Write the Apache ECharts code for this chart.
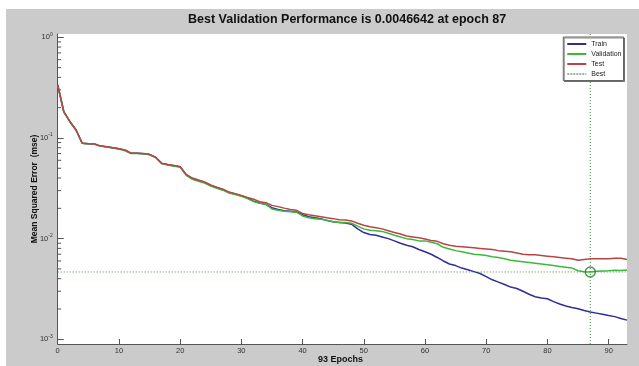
<!DOCTYPE html>
<html><head><meta charset="utf-8">
<script src="https://cdn.jsdelivr.net/npm/echarts@6/dist/echarts.min.js"></script>
<style>html,body{margin:0;padding:0;background:#fff}#c{width:639px;height:366px}</style>
</head><body><div id="c"></div>
<script>
const epochs = Array.from({length: 94}, (_, i) => i);
const train = [0.336,0.182,0.145,0.12,0.0885,0.0877,0.087,0.083,0.082,0.080,0.078,0.0757,0.0704,0.0704,0.0698,0.0686,0.0642,0.0558,0.0542,0.053,0.0517,
0.0430,0.0394,0.0377,0.0360,0.0337,0.0320,0.0306,0.0287,0.0277,0.0266,0.0254,
0.0236,0.0226,0.0219,0.0203,0.0195,0.0189,0.0187,0.0184,0.0173,0.0165,0.0161,0.0158,0.0151,0.0147,0.0145,0.0143,0.0139,0.0125,0.0115,0.0110,0.0108,0.0104,0.0100,0.0095,0.0090,0.0086,0.0083,0.0078,0.0074,0.0070,0.0065,0.0060,0.0056,0.0054,0.0051,0.0049,0.0047,0.0045,0.0042,0.0039,0.0037,0.0035,0.0033,0.0032,0.0030,0.0028,0.00265,0.00257,0.00253,0.00237,0.00224,0.00214,0.00207,0.00201,0.00193,0.00187,0.00182,0.00177,0.00172,0.00168,0.00161,0.00155];
const validation = [0.336,0.182,0.145,0.12,0.0885,0.0877,0.087,0.083,0.0815,0.0795,0.0775,0.0745,0.0702,0.0702,0.0697,0.0682,0.0640,0.0556,0.0538,0.0525,0.0514,
0.0425,0.0388,0.0372,0.0356,0.0333,0.0316,0.0303,0.0284,0.0274,0.0263,0.0250,
0.0233,0.0224,0.0219,0.0197,0.0191,0.0187,0.0185,0.0183,0.0168,0.0161,0.0158,0.0156,0.0152,0.0147,0.0145,0.0145,0.0142,0.0133,0.0125,0.0121,0.0120,0.0118,0.0113,0.0108,0.0104,0.0100,0.0098,0.0095,0.0095,0.0092,0.0089,0.0082,0.0079,0.0076,0.0074,0.0072,0.0070,0.0069,0.0068,0.0066,0.0065,0.0063,0.0061,0.0060,0.0059,0.0058,0.0057,0.0056,0.0055,0.0054,0.0053,0.0052,0.0051,0.0048,0.0047,0.0046642,0.00475,0.00478,0.0048,0.00485,0.00483,0.00487];
const test = [0.336,0.182,0.145,0.12,0.0885,0.0877,0.087,0.083,0.082,0.080,0.078,0.076,0.0705,0.0705,0.070,0.0688,0.0643,0.056,0.0544,0.0532,0.0519,
0.0435,0.040,0.0382,0.0365,0.0341,0.0324,0.031,0.029,0.028,0.0269,0.0257,
0.0246,0.0233,0.0227,0.0214,0.0208,0.0201,0.0195,0.0191,0.0178,0.0173,0.0169,0.0165,0.0161,0.0158,0.0154,0.0153,0.0150,0.0142,0.0136,0.0131,0.0128,0.0125,0.0120,0.0115,0.0111,0.0106,0.0104,0.0102,0.0099,0.0096,0.0094,0.0089,0.0086,0.0084,0.0083,0.0082,0.0081,0.0080,0.0079,0.0078,0.0076,0.0075,0.0074,0.0072,0.0070,0.0069,0.0069,0.0068,0.0067,0.0066,0.0065,0.0064,0.0063,0.0061,0.0062,0.0063,0.0063,0.0063,0.0063,0.0064,0.0064,0.0062];
const bestEpoch = 87;
const bestValue = 0.0046642;
const xTicks = [0,10,20,30,40,50,60,70,80,90];
const yMinorTicks = [0.002,0.003,0.004,0.005,0.006,0.007,0.008,0.009,0.02,0.03,0.04,0.05,0.06,0.07,0.08,0.09,0.2,0.3,0.4,0.5,0.6,0.7,0.8,0.9];
const xRange = [0, 93];
const yRange = [0.001, 1];
const yFrame = [0.000898, 1.0784];

const FONT = 'Liberation Sans, Arial, sans-serif';
const AX = '#555';
const cTrain = '#2e2e96', cVal = '#3cb83c', cTest = '#b84444', cBest = '#3a943a';
const pairs = arr => epochs.map((e, i) => [e, arr[i]]);

const chart = echarts.init(document.getElementById('c'), null, {renderer: 'canvas'});
chart.setOption({
  animation: false,
  backgroundColor: '#cbcbcb',
  textStyle: {fontFamily: FONT},
  graphic: [
    {type: 'rect', shape: {x: 0, y: 0, width: 639, height: 9}, style: {fill: '#fff'}, silent: true},
    {type: 'rect', shape: {x: 0, y: 0, width: 6, height: 366}, style: {fill: '#fff'}, silent: true},
    {type: 'text', x: 340.5, y: 360, silent: true,
     style: {text: '93 Epochs', fill: '#111', font: 'bold 9px ' + FONT, textAlign: 'center', textVerticalAlign: 'middle'}}
  ],
  title: {
    text: 'Best Validation Performance is 0.0046642 at epoch 87',
    left: 188, top: 13, padding: 0,
    textStyle: {fontSize: 12.5, fontWeight: 'bold', color: '#111', fontFamily: FONT}
  },
  legend: {
    data: [{name: 'Train'}, {name: 'Validation'}, {name: 'Test'},
           {name: 'Best', lineStyle: {color: '#4c5c4c', type: [2, 1], width: 1}}],
    orient: 'vertical', right: 15.5, top: 37,
    itemWidth: 19, itemHeight: 8, itemGap: 3, padding: [3.5, 2, 3, 3],
    backgroundColor: '#fff', borderColor: '#666', borderWidth: 1,
    shadowColor: 'rgba(0,0,0,0.45)', shadowOffsetX: 1, shadowOffsetY: 1, shadowBlur: 0,
    selectedMode: false,
    itemStyle: {opacity: 0},
    textStyle: {fontSize: 7, color: '#222', fontFamily: FONT}
  },
  grid: [
    {left: 57.7, right: 12, top: 34, bottom: 22, show: true, backgroundColor: '#fff', borderWidth: 0,
     containLabel: false, outerBoundsMode: 'none'},
    {left: 57.7, right: 12, top: 37.3, bottom: 26.7, containLabel: false, outerBoundsMode: 'none'}
  ],
  xAxis: [
    {type: 'value', gridIndex: 0, min: xRange[0], max: xRange[1], interval: 10,
     axisLine: {show: true, lineStyle: {color: AX, width: 1}},
     axisTick: {show: true, inside: true, length: 5, customValues: xTicks, lineStyle: {color: AX}},
     axisLabel: {show: true, customValues: xTicks, fontSize: 7.5, color: '#333', margin: 3, fontFamily: FONT},
     splitLine: {show: false}},
    {type: 'value', gridIndex: 1, min: xRange[0], max: xRange[1], show: false}
  ],
  yAxis: [
    {type: 'value', gridIndex: 0, min: 0, max: 1,
     name: 'Mean Squared Error  (mse)', nameLocation: 'middle', nameGap: 19,
     nameTextStyle: {fontSize: 8.5, fontWeight: 'bold', color: '#111', fontFamily: FONT},
     axisLine: {show: true, lineStyle: {color: AX, width: 1}},
     axisTick: {show: false}, axisLabel: {show: false}, splitLine: {show: false}},
    {type: 'log', logBase: 10, gridIndex: 1, min: yRange[0], max: yRange[1],
     axisLine: {show: false},
     axisTick: {show: true, inside: true, length: 6, lineStyle: {color: AX}},
     axisLabel: {show: true, margin: 5, color: '#333',
       formatter: v => '{b|10}{s|' + Math.round(Math.log10(v)) + '}',
       rich: {b: {fontSize: 7.5, color: '#333', fontFamily: FONT},
              s: {fontSize: 5, color: '#333', fontFamily: FONT, padding: [0, 0, 6, 0]}}},
     splitLine: {show: false}}
  ],
  series: [
    {name: 'Train', type: 'line', xAxisIndex: 1, yAxisIndex: 1, data: pairs(train), symbol: 'none',
     lineStyle: {color: cTrain, width: 1.5}, itemStyle: {color: cTrain}},
    {name: 'Validation', type: 'line', xAxisIndex: 1, yAxisIndex: 1, data: pairs(validation), symbol: 'none',
     lineStyle: {color: cVal, width: 1.5}, itemStyle: {color: cVal}},
    {name: 'Test', type: 'line', xAxisIndex: 1, yAxisIndex: 1, data: pairs(test), symbol: 'none',
     lineStyle: {color: cTest, width: 1.5}, itemStyle: {color: cTest}},
    {name: 'Best', type: 'line', xAxisIndex: 1, yAxisIndex: 1, symbol: 'none',
     data: [[xRange[0], bestValue], [xRange[1], bestValue]],
     lineStyle: {color: cBest, width: 1, type: [1, 2]}, itemStyle: {color: cBest}},
    {name: 'Best', type: 'line', xAxisIndex: 1, yAxisIndex: 1, symbol: 'none', clip: false,
     data: [[bestEpoch, yFrame[0]], [bestEpoch, yFrame[1]]],
     lineStyle: {color: cBest, width: 1, type: [1, 2]}, itemStyle: {color: cBest}},
    {name: 'bestPoint', type: 'scatter', xAxisIndex: 1, yAxisIndex: 1,
     data: [[bestEpoch, bestValue]], symbol: 'circle', symbolSize: 10,
     itemStyle: {color: 'rgba(0,0,0,0)', borderColor: '#1f7a1f', borderWidth: 1.5}, z: 5},
    {name: 'minorTicks', type: 'custom', xAxisIndex: 1, yAxisIndex: 1, silent: true, clip: false,
     data: yMinorTicks.map(v => [xRange[0], v]),
     renderItem: (params, api) => {
       const p = api.coord([api.value(0), api.value(1)]);
       return {type: 'line', shape: {x1: p[0], y1: p[1], x2: p[0] + 3.5, y2: p[1]},
               style: {stroke: AX, lineWidth: 1}};
     }}
  ]
});
</script>
</body></html>
